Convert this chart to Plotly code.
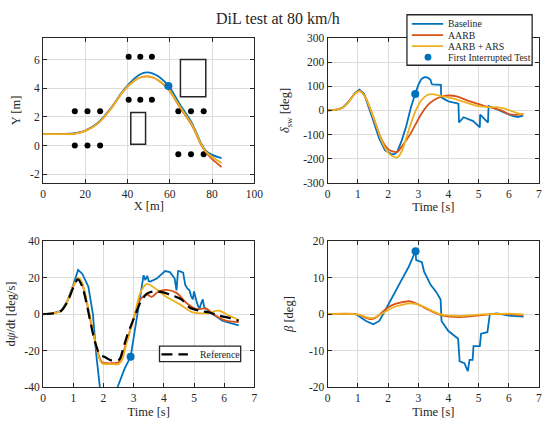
import plotly.graph_objects as go

W, H = 548, 424

# ---------------- data ----------------
names = ["Baseline", "AARB", "AARB + ARS", "First Interrupted Test"]
ref_name = "Reference"
colors = ["#0072BD", "#D95319", "#EDB120"]
title_text = "DiL test at 80 km/h"

# trajectory
traj_x = [0, 10, 15, 20, 26, 32, 38, 43, 46, 49, 52, 55, 59.7, 64.4, 70.5, 75, 77, 80, 84.5]
traj_y_base = [0.8, 0.81, 0.86, 1.05, 1.6, 2.6, 3.85, 4.65, 4.98, 5.1, 5.02, 4.78, 4.1, 2.95, 1.55, 0.1, -0.35, -0.65, -0.88]
traj_y_aarb = [0.8, 0.8, 0.84, 1.02, 1.55, 2.55, 3.8, 4.5, 4.75, 4.83, 4.75, 4.5, 3.85, 2.75, 1.4, 0.0, -0.45, -0.95, -1.5]
traj_y_ars = [0.8, 0.8, 0.84, 1.02, 1.55, 2.55, 3.8, 4.5, 4.75, 4.83, 4.75, 4.5, 3.87, 2.8, 1.45, 0.05, -0.4, -0.8, -1.22]
traj_int_x = [59.3]
traj_int_y = [4.15]
cone_x = [15, 21, 27, 15, 21, 27, 40.5, 46, 51.5, 40.5, 46, 51.5, 64, 70, 76, 64, 70, 76]
cone_y = [0, 0, 0, 2.4, 2.4, 2.4, 3.2, 3.2, 3.2, 6.2, 6.2, 6.2, 2.4, 2.4, 2.4, -0.6, -0.6, -0.6]
obst_x0 = [41.5, 65.0]
obst_x1 = [48.5, 77.0]
obst_y0 = [0.1, 3.4]
obst_y1 = [2.3, 6.0]

# steering wheel angle
sw_t_base = [0, 0.3, 0.5, 0.7, 0.9, 1.05, 1.2, 1.35, 1.5, 1.7, 1.9, 2.1, 2.2, 2.3, 2.45, 2.6, 2.75, 2.9, 3.0,
             3.1, 3.2, 3.3, 3.4, 3.44, 3.46, 3.75, 3.76, 3.85, 4.0, 4.33, 4.35, 4.5, 4.82, 5.04, 5.05, 5.31,
             5.33, 5.5, 5.7, 5.9, 6.12, 6.3, 6.48]
sw_v_base = [0, 3, 12, 38, 72, 86, 70, 18, -38, -115, -165, -180, -182, -172, -125, -65, 10, 69, 105,
             130, 138, 137, 128, 112, 108, 106, 55, 48, 38, 28, -50, -28, -44, -70, -17, -50,
             18, 10, 0, -12, -23, -27, -21]
sw_t_aarb = [0, 0.3, 0.5, 0.7, 0.9, 1.05, 1.2, 1.4, 1.6, 1.8, 2.0, 2.15, 2.3, 2.45, 2.7, 2.9, 3.1, 3.3,
             3.55, 3.8, 4.05, 4.3, 4.6, 4.9, 5.2, 5.5, 5.75, 6.0, 6.2, 6.48]
sw_v_aarb = [0, 3, 12, 36, 70, 80, 66, 10, -60, -125, -160, -170, -172, -150, -105, -60, -15, 20,
             45, 58, 62, 57, 43, 30, 18, 10, 0, -15, -18, -14]
sw_t_ars = [0, 0.3, 0.5, 0.7, 0.9, 1.05, 1.2, 1.4, 1.6, 1.8, 2.0, 2.15, 2.3, 2.45, 2.7, 2.9, 3.1, 3.3,
            3.45, 3.6, 3.9, 4.2, 4.6, 5.0, 5.3, 5.6, 5.8, 6.1, 6.3, 6.48]
sw_v_ars = [0, 3, 12, 36, 70, 80, 64, 10, -60, -130, -175, -190, -195, -170, -75, -5, 42, 64,
            68, 65, 56, 48, 32, 18, 14, 14, 10, -3, -12, -17]
sw_int_t = [2.9]
sw_int_v = [68]

# yaw rate
yr_t_base = [0, 0.3, 0.6, 0.8, 1.0, 1.16, 1.3, 1.5, 1.65, 1.76, 1.88, 2.0, 2.2, 2.35, 2.47, 2.7, 2.9, 3.0,
             3.1, 3.22, 3.33, 3.38, 3.41, 3.45, 3.5, 3.55, 3.65, 3.77, 3.9, 4.04, 4.2, 4.3, 4.36, 4.42,
             4.47, 4.52, 4.64, 4.71, 4.78, 4.85, 4.9, 4.96, 5.0, 5.1, 5.18, 5.24, 5.29, 5.34, 5.45,
             5.61, 5.8, 5.94, 6.1, 6.26, 6.48]
yr_v_base = [0, 0.3, 1.8, 7, 16, 24.2, 22, 15, 0, -22, -40, -50, -55, -50, -40, -30, -23.5, -13,
             -2, 9.8, 21.3, 19, 19.5, 21, 18, 17.8, 18.5, 19.5, 21.5, 23.6, 23, 21, 19.5, 13,
             23.5, 23.5, 22.7, 16, 14, 13, 10, 8, 12.4, 6, 2.7, 6, 8, 3.6, 2,
             0, -2, -3.6, -4.5, -5.3, -6.2]
yr_t_aarb = [0, 0.3, 0.6, 0.8, 1.0, 1.15, 1.3, 1.45, 1.6, 1.75, 1.85, 1.95, 2.1, 2.3, 2.5, 2.6, 2.75,
             2.9, 3.05, 3.22, 3.44, 3.6, 3.82, 4.09, 4.42, 4.74, 5.07, 5.4, 5.72, 6.05, 6.3, 6.48]
yr_v_aarb = [0, 0.3, 1.8, 7, 15, 19.5, 16, 6, -6, -17, -23, -26.5, -27, -27, -26.5, -24, -16,
             -8, 0, 8, 10.7, 9.4, 12.4, 13.3, 11.6, 6.2, 2.7, 3, -0.9, -3.6, -4.2, -4.4]
yr_t_ars = [0, 0.3, 0.6, 0.8, 1.0, 1.18, 1.3, 1.45, 1.6, 1.75, 1.85, 1.95, 2.1, 2.3, 2.5, 2.62, 2.75,
            2.9, 3.05, 3.22, 3.44, 3.66, 4.09, 4.53, 4.96, 5.4, 5.83, 6.16, 6.37, 6.48]
yr_v_ars = [0, 0.3, 1.8, 7, 15.5, 20, 17, 7, -5, -17, -24, -27, -27.5, -27.5, -27.5, -25, -17,
            -8, 1, 11.6, 16.5, 14.7, 9.4, 5.3, 0.9, 0.4, 1.8, -0.9, -2.3, -3.6]
yr_t_ref = [0, 0.3, 0.6, 0.8, 1.0, 1.15, 1.3, 1.45, 1.6, 1.75, 1.87, 2.03, 2.25, 2.52, 2.65, 2.79, 3.0,
            3.22, 3.44, 3.66, 3.98, 4.31, 4.58, 4.85, 5.18, 5.5, 5.83, 6.16, 6.48]
yr_v_ref = [0, 0.3, 1.8, 6.5, 14.5, 19, 15, 5, -7, -17, -22, -23.5, -25.4, -25, -19, -11.6, -2.7,
            6.2, 11.2, 12.4, 11.9, 10, 8, 3.6, 1.8, 0.9, -0.9, -2.1, -3.6]
yr_int_t = [2.9]
yr_int_v = [-23.5]

# side slip angle
ss_t_base = [0, 0.9, 1.0, 1.27, 1.51, 1.71, 1.92, 2.14, 2.47, 2.68, 2.91, 2.93, 3.01, 3.12, 3.19, 3.41,
             3.6, 3.74, 3.77, 3.99, 4.32, 4.37, 4.53, 4.64, 4.7, 4.8, 4.83, 5.04, 5.08, 5.29, 5.37,
             5.62, 5.95, 6.49]
ss_v_base = [0, 0, -0.4, -1.9, -2.8, -1.9, 1.25, 4.8, 9.7, 12.9, 17.3, 14.8, 14.6, 14.2, 11.7, 8,
             6.0, 4.0, -1.9, -4.6, -6.8, -13, -13.5, -15.7, -12.6, -12.6, -8.8, -8.8, -5.4, -5, -0.1,
             0.2, -0.4, -0.7]
ss_t_ctrl = [0, 0.9, 1.1, 1.25, 1.4, 1.55, 1.7, 1.9, 2.1, 2.3, 2.5, 2.7, 2.9, 3.1, 3.3, 3.5, 3.7, 3.9,
             4.2, 4.5, 4.8, 5.1, 5.5, 6.0, 6.48]
ss_v_aarb = [0, 0, -0.4, -1.0, -1.4, -1.2, -0.3, 1.2, 2.3, 2.9, 3.3, 3.5, 3.0, 2.2, 1.3, 0.5, -0.2, -0.6,
             -0.8, -0.8, -0.6, -0.3, 0, 0, -0.3]
ss_v_ars = [0, 0, -0.3, -0.8, -1.1, -1.0, -0.4, 0.6, 1.6, 2.2, 2.6, 2.9, 2.8, 2.3, 1.5, 0.7, 0.0, -0.3,
            -0.5, -0.5, -0.3, -0.1, 0, 0.1, -0.1]
ss_int_t = [2.91]
ss_int_v = [17.2]

# ticks
tl_xt = [0, 20, 40, 60, 80, 100]
tl_yt = [-2, 0, 2, 4, 6]
tr_yt = [-300, -200, -100, 0, 100, 200, 300]
bl_yt = [-40, -20, 0, 20, 40]
br_yt = [-20, -10, 0, 10, 20]
time_t = [0, 1, 2, 3, 4, 5, 6, 7]

def lab(v):
    return [str(x) for x in v]

# ---------------- figure ----------------
fig = go.Figure()
FONT = "Liberation Serif, Times New Roman, serif"
TXT = "#262626"
LW = 1.8
DASH = "11px,6px"

def line(x, y, c, ax, shape="linear", dash=None, width=LW):
    fig.add_trace(go.Scatter(x=x, y=y, mode="lines", xaxis=ax[0], yaxis=ax[1], showlegend=False,
                             line=dict(color=c, width=width, shape=shape, dash=dash, smoothing=0.8),
                             hoverinfo="skip"))

def dot(x, y, ax, size=8, c=colors[0]):
    fig.add_trace(go.Scatter(x=x, y=y, mode="markers", xaxis=ax[0], yaxis=ax[1], showlegend=False,
                             marker=dict(color=c, size=size, line=dict(width=0)), hoverinfo="skip"))

A1, A2, A3, A4 = ("x", "y"), ("x2", "y2"), ("x3", "y3"), ("x4", "y4")

# top-left: trajectory
dot(cone_x, cone_y, A1, size=6, c="black")
line(traj_x, traj_y_base, colors[0], A1, "spline")
line(traj_x, traj_y_aarb, colors[1], A1, "spline")
line(traj_x, traj_y_ars, colors[2], A1, "spline")
dot(traj_int_x, traj_int_y, A1)
for i in range(len(obst_x0)):
    fig.add_shape(type="rect", xref="x", yref="y", x0=obst_x0[i], x1=obst_x1[i], y0=obst_y0[i], y1=obst_y1[i],
                  line=dict(color="#262626", width=1.5))

# top-right: steering
line(sw_t_base, sw_v_base, colors[0], A2)
line(sw_t_aarb, sw_v_aarb, colors[1], A2, "spline")
line(sw_t_ars, sw_v_ars, colors[2], A2, "spline")
dot(sw_int_t, sw_int_v, A2)

# bottom-left: yaw rate
line(yr_t_base, yr_v_base, colors[0], A3)
line(yr_t_aarb, yr_v_aarb, colors[1], A3, "spline")
line(yr_t_ars, yr_v_ars, colors[2], A3, "spline")
line(yr_t_ref, yr_v_ref, "black", A3, "spline", dash=DASH, width=2.2)
dot(yr_int_t, yr_int_v, A3)

# bottom-right: side slip
line(ss_t_base, ss_v_base, colors[0], A4)
line(ss_t_ctrl, ss_v_aarb, colors[1], A4, "spline")
line(ss_t_ctrl, ss_v_ars, colors[2], A4, "spline")
dot(ss_int_t, ss_int_v, A4)

def axis(domain, rng, tv, title, anchor, standoff):
    return dict(domain=domain, range=rng, tickvals=tv, ticktext=lab(tv), anchor=anchor,
                showline=True, linecolor=TXT, linewidth=1.2, mirror="ticks", ticks="inside",
                ticklen=4, tickcolor=TXT, showgrid=True, gridcolor="#dcdcdc", gridwidth=1,
                zeroline=False, tickfont=dict(family=FONT, size=11.5, color=TXT),
                title=dict(text=title, font=dict(family=FONT, size=12.5, color=TXT), standoff=standoff))

xl = [41 / W, 257 / W]
xr = [332 / W, 1.0]
yt = [1 - 182 / H, 1 - 33 / H]
yb = [1 - 392 / H, 1 - 242 / H]

fig.update_layout(
    width=W, height=H, margin=dict(l=0, r=0, t=0, b=0),
    font=dict(family=FONT, color=TXT),
    paper_bgcolor="white", plot_bgcolor="white", showlegend=False,
    xaxis=axis(xl, [0, 100], tl_xt, "X [m]", "y", 2),
    yaxis=axis(yt, [-2.6, 7.5], tl_yt, "Y [m]", "x", 6),
    xaxis2=axis(xr, [0, 7], time_t, "Time [s]", "y2", 2),
    yaxis2=axis(yt, [-300, 300], tr_yt, "<i>δ</i><sub>sw</sub> [deg]", "x2", 10),
    xaxis3=axis(xl, [0, 7], time_t, "Time [s]", "y3", 4),
    yaxis3=axis(yb, [-40, 40], bl_yt, "d<i>ψ</i>/dt [deg/s]", "x3", 5),
    xaxis4=axis(xr, [0, 7], time_t, "Time [s]", "y4", 4),
    yaxis4=axis(yb, [-20, 20], br_yt, "<i>β</i> [deg]", "x4", 12),
)

fig.add_annotation(text=title_text, x=281 / W, y=1 - 13 / H, xref="paper", yref="paper",
                   showarrow=False, xanchor="center", yanchor="middle",
                   font=dict(family=FONT, size=16, color=TXT))

# ---- legend (drawn in paper coordinates) ----
def px(x):
    return x / W

def py(y):
    return 1 - y / H

LF = 9.8
fig.add_shape(type="rect", xref="paper", yref="paper", x0=px(413), x1=px(541), y0=py(61), y1=py(9),
              line=dict(color=TXT, width=1.3), fillcolor="white", layer="above")
rows = [18.3, 30, 41.3, 52.7]
for i in range(3):
    fig.add_shape(type="line", xref="paper", yref="paper", x0=px(418), x1=px(450), y0=py(rows[i]), y1=py(rows[i]),
                  line=dict(color=colors[i], width=LW), layer="above")
fig.add_shape(type="circle", xref="paper", yref="paper", x0=px(431), x1=px(438), y0=py(rows[3] + 3.5),
              y1=py(rows[3] - 3.5), line=dict(width=0), fillcolor=colors[0], layer="above")
for i, n in enumerate(names):
    fig.add_annotation(text=n, x=px(453), y=py(rows[i]), xref="paper", yref="paper", showarrow=False,
                       xanchor="left", yanchor="middle", font=dict(family=FONT, size=LF, color=TXT))

fig.add_shape(type="rect", xref="paper", yref="paper", x0=px(160), x1=px(243), y0=py(366), y1=py(350),
              line=dict(color=TXT, width=1.3), fillcolor="white", layer="above")
fig.add_shape(type="line", xref="paper", yref="paper", x0=px(162), x1=px(189), y0=py(358.5), y1=py(358.5),
              line=dict(color="black", width=2.2, dash=DASH), layer="above")
fig.add_annotation(text=ref_name, x=px(199), y=py(358.5), xref="paper", yref="paper", showarrow=False,
                   xanchor="left", yanchor="middle", font=dict(family=FONT, size=LF, color=TXT))

fig.write_html("out.html")
